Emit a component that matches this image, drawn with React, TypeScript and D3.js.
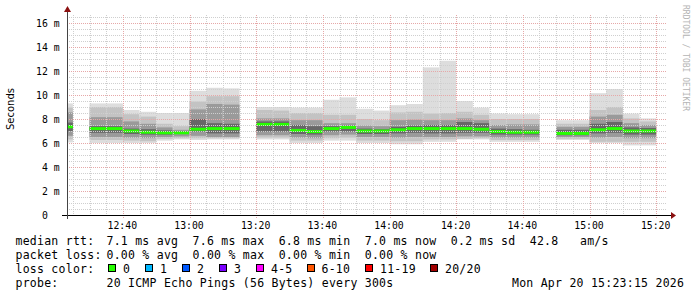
import React from 'react';
import * as d3 from 'd3';

// 5-minute slots starting 12:20 (36 slots)
const slotStarts = [
  '12:20', '12:25', '12:30', '12:35', '12:40', '12:45', '12:50', '12:55',
  '13:00', '13:05', '13:10', '13:15', '13:20', '13:25', '13:30', '13:35',
  '13:40', '13:45', '13:50', '13:55', '14:00', '14:05', '14:10', '14:15',
  '14:20', '14:25', '14:30', '14:35', '14:40', '14:45', '14:50', '14:55',
  '15:00', '15:05', '15:10', '15:15',
];
type V = number | null;
// values in ms
const pingMax: V[] = [9.3, null, 9.3, 9.3, 8.75, 8.6, 8.5, 8.5, 10.35, 10.6, 10.55, null, 9.0, 9.0, 8.95, 8.95, 9.6, 9.8, 8.85, 8.7, 9.15, 9.25, 12.3, 12.85, 9.5, 8.95, 8.45, 8.4, 8.4, null, 7.9, 7.9, 10.15, 10.5, 8.45, 8.05];
const pingU2: V[] = [8.95, null, 9.0, 9.0, 8.4, 8.2, 7.6, 7.4, 9.45, 9.9, 9.9, null, 8.75, 8.7, 8.5, 8.5, 8.35, 8.35, 8.0, 7.9, 8.55, 8.6, 8.45, 8.5, 8.6, 8.35, 8.0, 8.0, 8.0, null, 7.6, 7.6, 8.75, 9.0, 8.05, 7.8];
const pingU3: V[] = [8.55, null, 8.15, 8.15, 7.8, 7.6, 7.3, 7.1, 8.8, 9.25, 9.2, null, 8.05, 8.05, 7.9, 7.9, 7.65, 7.65, 7.45, 7.4, 7.9, 7.95, 7.9, 7.9, 8.05, 7.9, 7.5, 7.55, 7.55, null, 7.35, 7.35, 8.2, 8.35, 7.65, 7.5];
const pingU4: V[] = [7.7, null, 7.4, 7.4, 7.2, 7.15, 7.05, 6.95, 8.0, 7.65, 7.6, null, 7.8, 7.8, 7.5, 7.4, 7.4, 7.45, 7.2, 7.15, 7.35, 7.45, 7.5, 7.5, 7.75, 7.65, 7.2, 7.15, 7.1, null, 7.1, 7.1, 7.6, 7.75, 7.3, 7.25];
const median: V[] = [7.35, null, 7.2, 7.2, 7.0, 6.9, 6.85, 6.85, 7.15, 7.2, 7.2, null, 7.55, 7.55, 7.05, 6.95, 7.2, 7.3, 7.0, 7.0, 7.1, 7.2, 7.2, 7.2, 7.2, 7.15, 6.95, 6.9, 6.9, null, 6.8, 6.8, 7.1, 7.2, 7.0, 7.0];
const pingL4: V[] = [7.0, null, 6.85, 6.85, 6.75, 6.7, 6.7, 6.75, 6.95, 6.8, 6.8, null, 6.95, 6.95, 6.75, 6.7, 6.95, 6.95, 6.75, 6.75, 6.8, 6.85, 6.8, 6.8, 6.85, 6.85, 6.7, 6.7, 6.7, null, 6.65, 6.65, 6.8, 6.85, 6.7, 6.7];
const pingL3: V[] = [6.6, null, 6.5, 6.5, 6.45, 6.4, 6.5, 6.55, 6.6, 6.5, 6.5, null, 6.65, 6.65, 6.45, 6.4, 6.65, 6.7, 6.5, 6.5, 6.45, 6.5, 6.5, 6.5, 6.55, 6.55, 6.45, 6.45, 6.45, null, 6.5, 6.5, 6.45, 6.5, 6.4, 6.4];
const pingL2: V[] = [6.3, null, 6.25, 6.25, 6.2, 6.15, 6.35, 6.4, 6.4, 6.4, 6.4, null, 6.45, 6.45, 6.2, 6.2, 6.4, 6.45, 6.2, 6.2, 6.15, 6.15, 6.3, 6.3, 6.35, 6.4, 6.25, 6.25, 6.25, null, 6.35, 6.35, 6.1, 6.1, 6.1, 6.1];
const pingMin: V[] = [6.05, null, 6.0, 6.0, 6.0, 6.0, 6.2, 6.3, 6.25, 6.3, 6.3, null, 6.3, 6.3, 6.0, 6.0, 6.2, 6.2, 6.0, 6.0, 5.9, 5.9, 6.1, 6.1, 6.3, 6.3, 6.1, 6.1, 6.1, null, 6.25, 6.25, 6.0, 6.0, 5.8, 5.8];

const yMajorTicks = [0, 2, 4, 6, 8, 10, 12, 14, 16];
const yTickLabels = [' 0  ', ' 2 m', ' 4 m', ' 6 m', ' 8 m', '10 m', '12 m', '14 m', '16 m'];

const lossLabels = ['0', '1', '2', '3', '4-5', '6-10', '11-19', '20/20'];
const lossColors = ['#26ff00', '#00b8ff', '#0059ff', '#7a00ff', '#ff00ff', '#ff5500', '#ff0000', '#a10000'];
const lossBoxX = [108.5, 145.5, 182.5, 219.5, 256.5, 307, 365.5, 430.5];

const statsLine = '7.1 ms avg  7.6 ms max  6.8 ms min  7.0 ms now  0.2 ms sd  42.8   am/s';
const lossLine = '0.00 % avg  0.00 % max  0.00 % min  0.00 % now';
const probeLine = '20 ICMP Echo Pings (56 Bytes) every 300s';
const stamp = 'Mon Apr 20 15:23:15 2026';

const layerColors = ['#dddddd', '#c3c3c3', '#9a9a9a', '#676767'];

const t = (hm: string) => {
  const [h, m] = hm.split(':').map(Number);
  return new Date(2026, 3, 20, h, m, 0);
};

export default function App() {
  const W = 697, H = 297;
  const left = 67, right = 667, top = 15, bottom = 215;
  const x = d3.scaleTime()
    .domain([new Date(2026, 3, 20, 12, 23, 15), new Date(2026, 3, 20, 15, 23, 15)])
    .range([left, right]);
  const y = d3.scaleLinear().domain([0, 200 / 12]).range([bottom, top]);

  const minorX = x.ticks(d3.timeMinute.every(5)!);
  const majorX = x.ticks(d3.timeMinute.every(20)!);
  const minorY = d3.range(0.5, 16.6, 0.5).filter(v => v % 2 !== 0);
  const fmt = d3.timeFormat('%H:%M');
  const mono = 'DejaVu Sans Mono, monospace';
  const gridGray = '#cfcfcf';
  const gridRed = '#e6a8a8';

  const bars = slotStarts.map((s, i) => {
    if (pingMax[i] == null) return null;
    const s0 = t(s);
    const s1 = d3.timeMinute.offset(s0, 5);
    const x0 = Math.max(x(s0), left);
    const x1 = x(s1);
    const pairs: [number, number][] = [
      [pingMin[i]!, pingMax[i]!],
      [pingL2[i]!, pingU2[i]!],
      [pingL3[i]!, pingU3[i]!],
      [pingL4[i]!, pingU4[i]!],
    ];
    return (
      <g key={s}>
        {pairs.map(([lo, hi], k) => (
          <rect key={k} x={x0} width={x1 - x0} y={y(hi)} height={y(lo) - y(hi)} fill={layerColors[k]} />
        ))}
        <rect x={x0} width={x1 - x0} y={y(median[i]!) - 1.5} height={3} fill={lossColors[0]} />
      </g>
    );
  });

  return (
    <svg width={W} height={H} style={{ position: 'absolute', left: 0, top: 0, background: '#fff' }}>
      <rect width={W} height={H} fill="#fff" />
      {bars}
      {/* grid */}
      <g shapeRendering="crispEdges">
        {minorY.map(v => (
          <line key={'my' + v} x1={left} x2={right} y1={Math.round(y(v)) + 0.5} y2={Math.round(y(v)) + 0.5}
            stroke={gridGray} strokeDasharray="1,1" />
        ))}
        {minorX.filter(d => d.getMinutes() % 20 !== 0).map(d => (
          <line key={'mx' + d.getTime()} x1={Math.round(x(d)) + 0.5} x2={Math.round(x(d)) + 0.5} y1={top} y2={bottom}
            stroke={gridGray} strokeDasharray="1,1" />
        ))}
        {yMajorTicks.filter(v => v > 0).map(v => (
          <line key={'My' + v} x1={left} x2={right} y1={Math.round(y(v)) + 0.5} y2={Math.round(y(v)) + 0.5}
            stroke={gridRed} strokeDasharray="1,1" />
        ))}
        {majorX.map(d => (
          <line key={'Mx' + d.getTime()} x1={Math.round(x(d)) + 0.5} x2={Math.round(x(d)) + 0.5} y1={top} y2={bottom + 3}
            stroke={gridRed} strokeDasharray="1,1" />
        ))}
      </g>
      {/* axes */}
      <g shapeRendering="crispEdges">
        <line x1={62} x2={671} y1={bottom + 0.5} y2={bottom + 0.5} stroke="#000" />
        <line x1={left + 0.5} x2={left + 0.5} y1={bottom + 4} y2={10} stroke="#444" />
      </g>
      <path d={`M${671},${bottom - 3} L${676},${bottom + 0.5} L${671},${bottom + 4} Z`} fill="#8b1010" />
      <path d={`M${left - 3},${12} L${left + 0.5},${6} L${left + 4},${12} Z`} fill="#8b1010" />
      {/* y tick labels */}
      {yMajorTicks.map((v, i) => (
        <text key={'yl' + v} x={36} y={Math.round(y(v)) + 4} fontFamily={mono} fontSize={9.8} fill="#000"
          xmlSpace="preserve">{yTickLabels[i]}</text>
      ))}
      {/* x tick labels */}
      {majorX.map(d => (
        <text key={'xl' + d.getTime()} x={x(d) - 0.5} y={228.5} textAnchor="middle" fontFamily={mono} fontSize={9.8} fill="#000">{fmt(d)}</text>
      ))}
      {/* y title */}
      <text transform="translate(14,109) rotate(-90)" textAnchor="middle" fontFamily="DejaVu Sans, sans-serif" fontSize={10} fill="#000">Seconds</text>
      {/* watermark */}
      <text transform="translate(682.5,5) rotate(90)" fontFamily={mono} fontSize={8} fill="#b4b4b4">RRDTOOL / TOBI OETIKER</text>
      {/* legend */}
      <g fontFamily={mono} fontSize={11.5} letterSpacing={0.25} fill="#000">
        <text x={15.5} y={245} xmlSpace="preserve">median rtt:</text>
        <text x={106.5} y={245} xmlSpace="preserve">{statsLine}</text>
        <text x={15.5} y={259} xmlSpace="preserve">packet loss:</text>
        <text x={106.5} y={259} xmlSpace="preserve">{lossLine}</text>
        <text x={15.5} y={273} xmlSpace="preserve">loss color:</text>
        {lossLabels.map((l, i) => (
          <g key={l}>
            <rect x={lossBoxX[i]} y={264.5} width={7} height={7} fill={lossColors[i]} stroke="#000" strokeWidth={1} shapeRendering="crispEdges" />
            <text x={lossBoxX[i] + 14.5} y={273}>{l}</text>
          </g>
        ))}
        <text x={15.5} y={287} xmlSpace="preserve">probe:</text>
        <text x={106.5} y={287} xmlSpace="preserve">{probeLine}</text>
        <text x={512} y={287} xmlSpace="preserve">{stamp}</text>
      </g>
    </svg>
  );
}
